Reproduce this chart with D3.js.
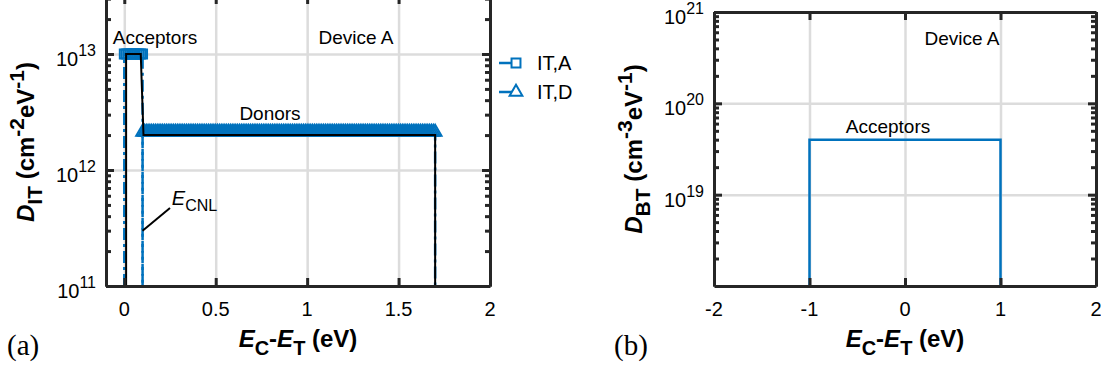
<!DOCTYPE html>
<html>
<head>
<meta charset="utf-8">
<script src="https://cdn.jsdelivr.net/npm/d3@7"></script>
<style>
  body { margin: 0; background: #fff; }
  svg { display: block; }
  text { font-family: "Liberation Sans", Arial, sans-serif; fill: #000; white-space: pre; }
</style>
</head>
<body>
<svg id="chart" width="1101" height="369"></svg>
<script>
// ---- panel (a): interface traps ----
const itXTicks = [0, 0.5, 1, 1.5, 2];
const itYTicks = [1e11, 1e12, 1e13];
const acceptorEdges = [0, 0.1];      // eV
const acceptorLevel = 1e13;          // cm^-2 eV^-1
const donorEdges = [0.1, 1.7];
const donorLevel = 2e12;
const gridStep = 0.01;               // energy grid the markers sit on
const totalE = [0.01, 0.01, 0.09, 0.105, 1.7, 1.7];
const totalD = [1e11, 1e13, 1e13, 2e12, 2e12, 1e11];

// ---- panel (b): border traps ----
const btXTicks = [-2, -1, 0, 1, 2];
const btYTicks = [1e19, 1e20, 1e21];
const btE = [-1, -1, 1, 1];
const btD = [1e18, 4e19, 4e19, 1e18];

const blue = "#0072BD";
const axisColor = "#262626";
const svg = d3.select("#chart");

// text with sub/superscripts, parts = [{t, sub, sup, i}]
function richText(parent, parts, size, opt) {
  opt = Object.assign({ sup: 0.42, sub: 0.3, scale: 0.78 }, opt);
  const t = parent.append("text").style("font-size", size + "px");
  let shift = 0;
  parts.forEach(p => {
    const s = p.sub ? size * opt.sub : p.sup ? -size * opt.sup : 0;
    const ts = t.append("tspan").text(p.t).attr("dy", s - shift);
    shift = s;
    if (p.sub || p.sup) ts.style("font-size", Math.round(size * opt.scale) + "px");
    if (p.i) ts.style("font-style", "italic");
  });
  return t;
}

function panel(cfg) {
  const x = d3.scaleLinear().domain(cfg.xDomain).range([cfg.left, cfg.right]);
  const y = d3.scaleLog().domain(cfg.yDomain).range([cfg.bottom, cfg.top]);
  const g = svg.append("g");
  const minor = y.ticks().filter(v => Math.abs(Math.log10(v) % 1) > 1e-6);

  // grid
  g.append("g")
    .attr("transform", `translate(0,${cfg.bottom})`)
    .call(d3.axisBottom(x).tickValues(cfg.xTicks).tickSize(-(cfg.bottom - cfg.top)).tickFormat(""))
    .call(a => a.select(".domain").remove())
    .selectAll("line").attr("stroke", "#dcdcdc").attr("stroke-width", 2.5);
  g.append("g")
    .attr("transform", `translate(${cfg.left},0)`)
    .call(d3.axisLeft(y).tickValues(cfg.yTicks).tickSize(-(cfg.right - cfg.left)).tickFormat(""))
    .call(a => a.select(".domain").remove())
    .selectAll("line").attr("stroke", "#dcdcdc").attr("stroke-width", 2.5);

  cfg.draw(g, x, y);

  // axes box with inward ticks on all sides
  const axes = [
    [d3.axisBottom(x).tickValues(cfg.xTicks), `translate(0,${cfg.bottom})`, 8],
    [d3.axisTop(x).tickValues(cfg.xTicks), `translate(0,${cfg.top})`, 8],
    [d3.axisLeft(y).tickValues(cfg.yTicks), `translate(${cfg.left},0)`, 8],
    [d3.axisRight(y).tickValues(cfg.yTicks), `translate(${cfg.right},0)`, 8],
    [d3.axisLeft(y).tickValues(minor), `translate(${cfg.left},0)`, 5],
    [d3.axisRight(y).tickValues(minor), `translate(${cfg.right},0)`, 5]
  ];
  axes.forEach(([ax, tr, len]) => {
    g.append("g").attr("transform", tr)
      .call(ax.tickSizeInner(-len).tickSizeOuter(0).tickFormat(""))
      .call(a => a.selectAll("path,line").attr("stroke", axisColor).attr("stroke-width", 3));
  });

  // tick labels
  cfg.xTicks.forEach(v => {
    g.append("text").attr("x", x(v)).attr("y", cfg.bottom + 30)
      .attr("text-anchor", "middle").style("font-size", "20px").text(String(v));
  });
  cfg.yTicks.forEach(v => {
    richText(g, [{ t: "10" }, { t: String(Math.round(Math.log10(v))), sup: true }], 20, { sup: 0.5, scale: 0.82 })
      .attr("x", cfg.left - 10).attr("y", y(v) + 12).attr("text-anchor", "end");
  });

  // axis titles
  richText(g, [{ t: "E", i: 1 }, { t: "C", sub: 1 }, { t: "-" }, { t: "E", i: 1 }, { t: "T", sub: 1 }, { t: " (eV)" }], 24, { sub: 0.32, scale: 0.85 })
    .attr("x", (cfg.left + cfg.right) / 2).attr("y", 347)
    .attr("text-anchor", "middle").style("font-weight", "bold");
  const yl = g.append("g").attr("transform", `translate(${cfg.yLabelX},${cfg.yLabelY}) rotate(-90)`);
  richText(yl, cfg.yLabel, 24, { sub: 0.32, sup: 0.42, scale: 0.88 }).attr("text-anchor", "middle").style("font-weight", "bold");

  g.append("text").attr("x", cfg.tagX).attr("y", 355)
    .style("font-family", "'Liberation Serif', 'Times New Roman', serif").style("font-size", "29px")
    .text(cfg.tag);
  return { g, x, y };
}

const lineGen = (x, y) => d3.line().x(d => x(d[0])).y(d => y(d[1]));

// panel (a)
panel({
  xDomain: [-0.1, 2], left: 106, right: 490,
  yDomain: [1e11, Math.pow(10, 13.5)], bottom: 286, top: -4,
  xTicks: itXTicks, yTicks: itYTicks,
  yLabel: [{ t: "D", i: 1 }, { t: "IT", sub: 1 }, { t: " (cm" }, { t: "-2", sup: 1 }, { t: "eV" }, { t: "-1", sup: 1 }, { t: ")" }],
  yLabelX: 34, yLabelY: 142, tag: "(a)", tagX: 7,
  draw: (g, x, y) => {
    const line = lineGen(x, y);
    const acc = [[acceptorEdges[0], 1e11], [acceptorEdges[0], acceptorLevel], [acceptorEdges[1], acceptorLevel], [acceptorEdges[1], 1e11]];
    const don = [[donorEdges[0], 1e11], [donorEdges[0], donorLevel], [donorEdges[1], donorLevel], [donorEdges[1], 1e11]];
    [acc, don].forEach(pts => {
      g.append("path").attr("d", line(pts)).attr("fill", "none")
        .attr("stroke", blue).attr("stroke-width", 2.5).attr("stroke-dasharray", "12,4,3,4");
    });
    const accE = d3.range(acceptorEdges[0], acceptorEdges[1] + 1e-9, gridStep);
    const donE = d3.range(donorEdges[0], donorEdges[1] + 1e-9, gridStep);
    g.selectAll(".sq").data(accE).join("path")
      .attr("d", d3.symbol(d3.symbolSquare, 80)())
      .attr("transform", d => `translate(${x(d)},${y(acceptorLevel)})`)
      .attr("fill", "none").attr("stroke", blue).attr("stroke-width", 2);
    g.selectAll(".tri").data(donE).join("path")
      .attr("d", d3.symbol(d3.symbolTriangle, 70)())
      .attr("transform", d => `translate(${x(d)},${y(donorLevel) - 3})`)
      .attr("fill", "none").attr("stroke", blue).attr("stroke-width", 2);
    g.append("path").attr("d", line(totalE.map((e, i) => [e, totalD[i]])))
      .attr("fill", "none").attr("stroke", "#000").attr("stroke-width", 2);

    // annotations
    g.append("text").attr("x", 155).attr("y", 44).attr("text-anchor", "middle").style("font-size", "19px").text("Acceptors");
    g.append("text").attr("x", 356).attr("y", 44).attr("text-anchor", "middle").style("font-size", "19px").text("Device A");
    g.append("text").attr("x", 270).attr("y", 120).attr("text-anchor", "middle").style("font-size", "19px").text("Donors");
    g.append("line").attr("x1", x(0.1)).attr("y1", y(3e11)).attr("x2", x(0.25)).attr("y2", y(4.7e11))
      .attr("stroke", "#000").attr("stroke-width", 2);
    richText(g, [{ t: "E", i: 1 }, { t: "CNL", sub: 1 }], 20, { scale: 0.8 }).attr("x", x(0.26)).attr("y", y(4.7e11) - 3);

    // legend
    [["IT,A", d3.symbolSquare, 80, 63], ["IT,D", d3.symbolTriangle, 70, 92]].forEach(([name, sym, sz, ly]) => {
      g.append("line").attr("x1", 499).attr("x2", 534).attr("y1", ly).attr("y2", ly)
        .attr("stroke", blue).attr("stroke-width", 2.5).attr("stroke-dasharray", "14,4,3,20");
      g.append("path").attr("d", d3.symbol(sym, sz)()).attr("transform", `translate(516,${ly})`)
        .attr("fill", "#fff").attr("stroke", blue).attr("stroke-width", 2);
      g.append("text").attr("x", 537).attr("y", ly + 7).style("font-size", "20px").text(name);
    });
  }
});

// panel (b)
panel({
  xDomain: [-2, 2], left: 714, right: 1096,
  yDomain: [1e18, 1e21], bottom: 286, top: 12,
  xTicks: btXTicks, yTicks: btYTicks,
  yLabel: [{ t: "D", i: 1 }, { t: "BT", sub: 1 }, { t: " (cm" }, { t: "-3", sup: 1 }, { t: "eV" }, { t: "-1", sup: 1 }, { t: ")" }],
  yLabelX: 642, yLabelY: 149, tag: "(b)", tagX: 614,
  draw: (g, x, y) => {
    g.append("path").attr("d", lineGen(x, y)(btE.map((e, i) => [e, btD[i]])))
      .attr("fill", "none").attr("stroke", blue).attr("stroke-width", 2.5);
    g.append("text").attr("x", 962).attr("y", 45).attr("text-anchor", "middle").style("font-size", "19px").text("Device A");
    g.append("text").attr("x", 888).attr("y", 133).attr("text-anchor", "middle").style("font-size", "19px").text("Acceptors");
  }
});
</script>
</body>
</html>
